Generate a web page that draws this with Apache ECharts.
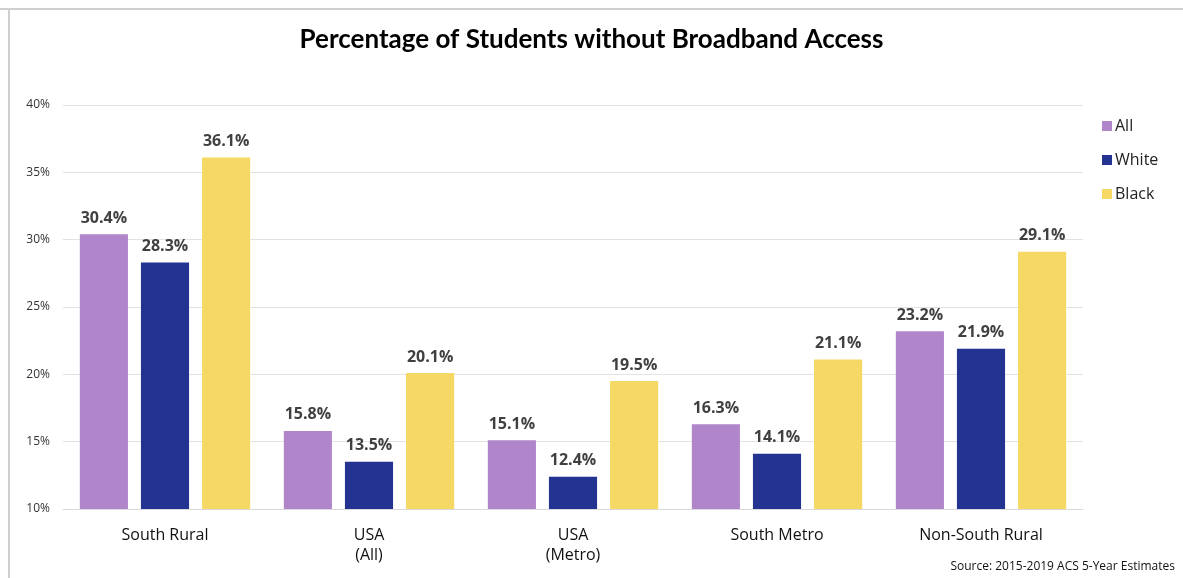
<!DOCTYPE html>
<html>
<head>
<meta charset="utf-8">
<script src="https://cdn.jsdelivr.net/npm/echarts@6/dist/echarts.min.js"></script>
<style>
  html, body { margin: 0; padding: 0; background: #fff; }
  #chart { width: 1183px; height: 578px; }
</style>
</head>
<body>
<div id="chart"></div>
<script>
// Regions compared
const categories = ['South Rural', 'USA\n(All)', 'USA\n(Metro)', 'South Metro', 'Non-South Rural'];
// Share of students without broadband (%)
const allStudents = [30.4, 15.8, 15.1, 16.3, 23.2];
const whiteStudents = [28.3, 13.5, 12.4, 14.1, 21.9];
const blackStudents = [36.1, 20.1, 19.5, 21.1, 29.1];
const seriesNames = ['All', 'White', 'Black'];
const colors = ['#B085CA', '#243392', '#F5D964'];

const fontFamily = 'Open Sans, Noto Sans, sans-serif';

const chart = echarts.init(document.getElementById('chart'), null, { renderer: 'canvas' });

const labelStyle = {
  show: true,
  position: 'top',
  distance: 8,
  color: '#404040',
  fontWeight: 'bold',
  fontSize: 16,
  fontFamily: fontFamily,
  formatter: p => p.value.toFixed(1) + '%'
};

chart.setOption({
  animation: false,
  backgroundColor: '#fff',
  color: colors,
  title: {
    text: 'Percentage of Students without Broadband Access',
    left: 'center',
    top: 22,
    textStyle: { fontFamily: 'Lato, Open Sans, sans-serif', fontWeight: 'bold', fontSize: 26, color: '#000' }
  },
  legend: {
    orient: 'vertical',
    left: 1097,
    top: 113,
    itemWidth: 10,
    itemHeight: 10,
    itemGap: 18,
    icon: 'rect',
    textStyle: { fontSize: 16, color: '#222', fontFamily: fontFamily, padding: [0, 0, 0, -2] },
    data: seriesNames
  },
  grid: { left: 63, right: 100, top: 105, bottom: 69, containLabel: false },
  xAxis: {
    type: 'category',
    data: categories,
    axisLine: { lineStyle: { color: '#d9d9d9', width: 1 } },
    axisTick: { show: false },
    axisLabel: { color: '#111', fontSize: 16, fontFamily: fontFamily, margin: 16, lineHeight: 20 }
  },
  yAxis: {
    type: 'value',
    min: 10,
    max: 40,
    interval: 5,
    axisLine: { show: false },
    axisTick: { show: false },
    splitLine: { lineStyle: { color: '#e3e3e3', width: 1 } },
    axisLabel: { color: '#333', fontSize: 12, fontFamily: fontFamily, margin: 13, formatter: v => v + '%' }
  },
  series: [
    { name: seriesNames[0], type: 'bar', data: allStudents, barGap: '27%', barCategoryGap: '16.5%', label: labelStyle },
    { name: seriesNames[1], type: 'bar', data: whiteStudents, label: labelStyle },
    { name: seriesNames[2], type: 'bar', data: blackStudents, label: labelStyle }
  ],
  graphic: [
    { type: 'rect', shape: { x: 0, y: 8, width: 1183, height: 2 }, style: { fill: '#cfcfcf' }, silent: true },
    { type: 'rect', shape: { x: 8, y: 8, width: 2, height: 570 }, style: { fill: '#cfcfcf' }, silent: true },
    {
      type: 'text', right: 8, top: 561,
      style: { text: 'Source: 2015-2019 ACS 5-Year Estimates', fontSize: 12, fontFamily: fontFamily, fill: '#111' }
    }
  ]
});
</script>
</body>
</html>
